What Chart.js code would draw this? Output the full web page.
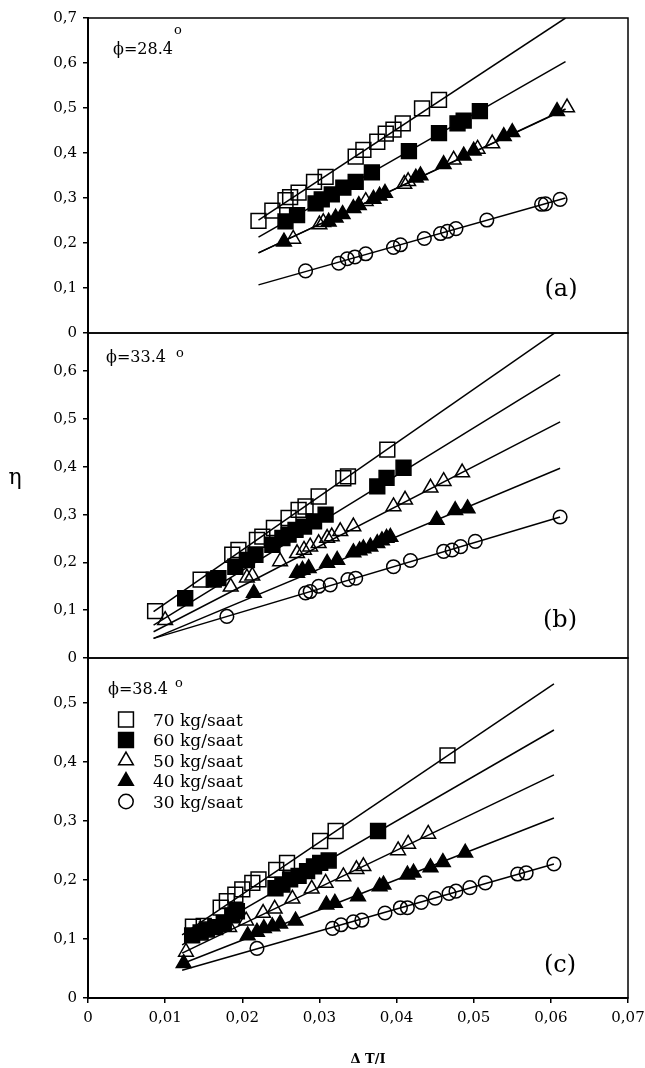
<!DOCTYPE html>
<html>
<head>
<meta charset="utf-8">
<script src="https://cdn.jsdelivr.net/npm/chart.js@4.4.0/dist/chart.umd.min.js"></script>
<style>
  html, body { margin: 0; padding: 0; background: #fff; }
  #wrap { position: relative; width: 645px; height: 1068px; }
  #wrap canvas { position: absolute; left: 0; top: 0; }
</style>
</head>
<body>
<div id="wrap">
  <canvas id="panelA" width="645" height="1068"></canvas>
  <canvas id="panelB" width="645" height="1068"></canvas>
  <canvas id="panelC" width="645" height="1068"></canvas>
</div>
<script>
// ---- data ----
const flowLabels = ['70 kg/saat', '60 kg/saat', '50 kg/saat', '40 kg/saat', '30 kg/saat'];
const xTicks = [0, 0.01, 0.02, 0.03, 0.04, 0.05, 0.06, 0.07];
const yTicksA = [0, 0.1, 0.2, 0.3, 0.4, 0.5, 0.6, 0.7];
const yTicksB = [0, 0.1, 0.2, 0.3, 0.4, 0.5, 0.6];
const yTicksC = [0, 0.1, 0.2, 0.3, 0.4, 0.5];

// (a) phi = 28.4
const a70x = [0.0221, 0.0239, 0.0256, 0.0262, 0.0273, 0.0293, 0.0308, 0.0347, 0.0357, 0.0375, 0.0386, 0.0396, 0.0408, 0.0433, 0.0455];
const a70y = [0.249, 0.272, 0.295, 0.302, 0.312, 0.336, 0.347, 0.392, 0.407, 0.425, 0.443, 0.452, 0.466, 0.499, 0.518];
const a60x = [0.0256, 0.0271, 0.0295, 0.0303, 0.0316, 0.0331, 0.0347, 0.0368, 0.0416, 0.0455, 0.0479, 0.0487, 0.0508];
const a60y = [0.248, 0.262, 0.288, 0.297, 0.308, 0.323, 0.336, 0.357, 0.404, 0.444, 0.466, 0.472, 0.493];
const a50x = [0.0266, 0.0300, 0.0305, 0.0360, 0.0410, 0.0415, 0.0474, 0.0505, 0.0524, 0.0621];
const a50y = [0.209, 0.241, 0.246, 0.293, 0.331, 0.337, 0.385, 0.409, 0.421, 0.501];
const a40x = [0.0254, 0.0312, 0.0321, 0.0330, 0.0344, 0.0351, 0.0370, 0.0378, 0.0385, 0.0425, 0.0431, 0.0461, 0.0487, 0.0500, 0.0539, 0.0550, 0.0608];
const a40y = [0.203, 0.247, 0.256, 0.264, 0.277, 0.284, 0.298, 0.305, 0.311, 0.345, 0.350, 0.375, 0.394, 0.405, 0.437, 0.446, 0.493];
const a30x = [0.0282, 0.0325, 0.0336, 0.0346, 0.0360, 0.0396, 0.0405, 0.0436, 0.0457, 0.0466, 0.0477, 0.0517, 0.0588, 0.0593, 0.0612];
const a30y = [0.138, 0.155, 0.165, 0.169, 0.176, 0.190, 0.196, 0.210, 0.221, 0.226, 0.232, 0.251, 0.286, 0.287, 0.297];
const aFitX = [0.0221, 0.0619];
const aFit = [[0.251, 0.700], [0.213, 0.603], [0.178, 0.498], [0.178, 0.497], [0.107, 0.300]];

// (b) phi = 33.4
const b70x = [0.0087, 0.0146, 0.0187, 0.0195, 0.0219, 0.0226, 0.0241, 0.0260, 0.0273, 0.0282, 0.0299, 0.0331, 0.0337, 0.0388];
const b70y = [0.098, 0.164, 0.216, 0.226, 0.247, 0.254, 0.272, 0.293, 0.310, 0.317, 0.338, 0.376, 0.380, 0.436];
const b60x = [0.0126, 0.0163, 0.0169, 0.0191, 0.0206, 0.0217, 0.0239, 0.0252, 0.0260, 0.0269, 0.0280, 0.0293, 0.0308, 0.0375, 0.0387, 0.0409];
const b60y = [0.125, 0.164, 0.167, 0.191, 0.205, 0.216, 0.237, 0.251, 0.258, 0.268, 0.275, 0.286, 0.300, 0.359, 0.377, 0.398];
const b50x = [0.0100, 0.0185, 0.0206, 0.0213, 0.0249, 0.0271, 0.0280, 0.0288, 0.0299, 0.0310, 0.0316, 0.0327, 0.0344, 0.0396, 0.0411, 0.0444, 0.0461, 0.0485];
const b50y = [0.079, 0.149, 0.168, 0.172, 0.202, 0.219, 0.226, 0.233, 0.240, 0.251, 0.254, 0.265, 0.275, 0.317, 0.331, 0.356, 0.370, 0.388];
const b40x = [0.0215, 0.0271, 0.0278, 0.0286, 0.0310, 0.0323, 0.0344, 0.0352, 0.0357, 0.0366, 0.0375, 0.0381, 0.0387, 0.0392, 0.0452, 0.0476, 0.0492];
const b40y = [0.136, 0.178, 0.184, 0.188, 0.199, 0.205, 0.221, 0.225, 0.229, 0.233, 0.240, 0.246, 0.251, 0.253, 0.289, 0.309, 0.313];
const b30x = [0.0180, 0.0282, 0.0288, 0.0299, 0.0314, 0.0337, 0.0347, 0.0396, 0.0418, 0.0461, 0.0472, 0.0483, 0.0502, 0.0612];
const b30y = [0.087, 0.136, 0.139, 0.150, 0.153, 0.164, 0.167, 0.191, 0.204, 0.223, 0.226, 0.233, 0.244, 0.295];
const bFitX = [0.0085, 0.0612];
const bFit = [[0.097, 0.688], [0.069, 0.593], [0.055, 0.494], [0.041, 0.397], [0.041, 0.295]];

// (c) phi = 38.4
const c70x = [0.0136, 0.0150, 0.0172, 0.0180, 0.0191, 0.0200, 0.0213, 0.0221, 0.0244, 0.0258, 0.0301, 0.0321, 0.0466];
const c70y = [0.121, 0.122, 0.153, 0.164, 0.175, 0.184, 0.195, 0.201, 0.217, 0.229, 0.266, 0.283, 0.411];
const c60x = [0.0135, 0.0146, 0.0154, 0.0165, 0.0176, 0.0187, 0.0193, 0.0243, 0.0252, 0.0262, 0.0273, 0.0284, 0.0293, 0.0301, 0.0312, 0.0376];
const c60y = [0.106, 0.111, 0.116, 0.120, 0.127, 0.140, 0.147, 0.186, 0.192, 0.201, 0.207, 0.215, 0.223, 0.229, 0.233, 0.283];
const c50x = [0.0127, 0.0183, 0.0205, 0.0227, 0.0242, 0.0265, 0.0290, 0.0308, 0.0331, 0.0348, 0.0357, 0.0402, 0.0415, 0.0441];
const c50y = [0.078, 0.120, 0.131, 0.144, 0.151, 0.168, 0.185, 0.195, 0.206, 0.218, 0.223, 0.250, 0.261, 0.278];
const c40x = [0.0124, 0.0207, 0.0219, 0.0228, 0.0239, 0.0249, 0.0269, 0.0309, 0.0320, 0.0350, 0.0378, 0.0383, 0.0414, 0.0422, 0.0444, 0.0460, 0.0489];
const c40y = [0.059, 0.106, 0.112, 0.118, 0.121, 0.126, 0.131, 0.158, 0.161, 0.172, 0.189, 0.192, 0.209, 0.212, 0.221, 0.230, 0.246];
const c30x = [0.0219, 0.0317, 0.0328, 0.0344, 0.0355, 0.0385, 0.0405, 0.0414, 0.0432, 0.0450, 0.0468, 0.0477, 0.0495, 0.0515, 0.0557, 0.0568, 0.0604];
const c30y = [0.084, 0.118, 0.124, 0.129, 0.132, 0.144, 0.153, 0.153, 0.162, 0.169, 0.177, 0.181, 0.187, 0.195, 0.210, 0.212, 0.227];
const cFitX = [0.0122, 0.0604];
const cFit = [[0.107, 0.532], [0.090, 0.454], [0.076, 0.378], [0.058, 0.305], [0.047, 0.227]];

// ---- styling ----
const FONT = '"DejaVu Serif", "Liberation Serif", serif';
Chart.defaults.font.family = FONT;
Chart.defaults.color = '#000';

const markerStyle = [
    { pointStyle: 'rect', radius: 10.5, fill: 'rgba(0,0,0,0)' },
    { pointStyle: 'rect', radius: 10.5, fill: '#000' },
    { pointStyle: 'triangle', radius: 8.5, fill: 'rgba(0,0,0,0)' },
    { pointStyle: 'triangle', radius: 8.5, fill: '#000' },
    { pointStyle: 'circle', radius: 6.8, fill: 'rgba(0,0,0,0)' }
];

const toPoints = (xs, ys) => xs.map((x, i) => ({ x: x, y: ys[i] }));
const fmt = (v, d) => v === 0 ? '0' : v.toFixed(d).replace('.', ',');

function drawTexts(ctx, texts) {
    texts.forEach(t => {
        ctx.font = `${t.weight || 'normal'} ${t.size}px ${FONT}`;
        ctx.textAlign = t.align || 'left';
        ctx.fillText(t.text, t.x, t.y);
        if (t.sup) {
            const w = ctx.measureText(t.text).width;
            ctx.font = `${t.supSize}px ${FONT}`;
            ctx.textAlign = 'left';
            ctx.fillText(t.sup, t.x + w + t.supGap, t.y - t.supRise);
        }
    });
}

function drawLegend(ctx) {
    ctx.font = `17px ${FONT}`;
    ctx.textAlign = 'left';
    flowLabels.forEach((label, i) => {
        const y = 719.5 + i * 20.5;
        const m = markerStyle[i];
        ctx.fillStyle = m.fill;
        ctx.strokeStyle = '#000';
        ctx.lineWidth = 1.5;
        Chart.helpers.drawPoint(ctx, {
            pointStyle: m.pointStyle,
            radius: m.pointStyle === 'circle' ? 7.2 : m.radius,
            rotation: 0,
            borderWidth: 1.5
        }, 126, y);
        ctx.fillStyle = '#000';
        ctx.fillText(label, 153, y + 6);
    });
}

function decor(texts, withLegend) {
    return {
        id: 'decor',
        afterDraw(chart) {
            const { ctx, chartArea: a } = chart;
            ctx.save();
            ctx.strokeStyle = '#000';
            ctx.lineWidth = 1.5;
            ctx.strokeRect(a.left, a.top, a.right - a.left, a.bottom - a.top);
            ctx.fillStyle = '#000';
            ctx.textBaseline = 'alphabetic';
            drawTexts(ctx, texts);
            if (withLegend) drawLegend(ctx);
            ctx.restore();
        }
    };
}

function makePanel(id, series, fitX, fits, yMax, yTicks, showX, padding, texts, withLegend) {
    const datasets = [];
    series.forEach((s, i) => {
        const m = markerStyle[i];
        datasets.push({
            label: flowLabels[i],
            data: toPoints(s[0], s[1]),
            showLine: false,
            pointStyle: m.pointStyle,
            pointRadius: m.radius,
            pointBackgroundColor: m.fill,
            pointBorderColor: '#000',
            pointBorderWidth: 1.5,
            order: 1
        });
    });
    fits.forEach((f, i) => {
        datasets.push({
            label: flowLabels[i] + ' fit',
            data: toPoints(fitX, f),
            showLine: true,
            pointRadius: 0,
            borderColor: '#000',
            borderWidth: 1.5,
            order: 2
        });
    });

    return new Chart(document.getElementById(id), {
        type: 'scatter',
        data: { datasets: datasets },
        options: {
            responsive: false,
            animation: false,
            devicePixelRatio: 1,
            events: [],
            layout: { padding: padding },
            plugins: { legend: { display: false }, tooltip: { enabled: false } },
            scales: {
                x: {
                    type: 'linear',
                    min: 0,
                    max: 0.07,
                    display: showX,
                    afterBuildTicks: s => { s.ticks = xTicks.map(v => ({ value: v })); },
                    afterFit: s => {
                        s.height = showX ? 60 : 0;
                        s.paddingLeft = 0;
                        s.paddingRight = 0;
                    },
                    border: { display: true, color: '#000', width: 2 },
                    grid: { drawOnChartArea: false, color: '#000', lineWidth: 1.5, tickLength: 5 },
                    ticks: {
                        font: { size: 15 },
                        padding: 6,
                        maxRotation: 0,
                        autoSkip: false,
                        callback: v => fmt(v, 2)
                    }
                },
                y: {
                    type: 'linear',
                    min: 0,
                    max: yMax,
                    afterBuildTicks: s => { s.ticks = yTicks.map(v => ({ value: v })); },
                    afterFit: s => { s.width = 88; },
                    border: { display: true, color: '#000', width: 2 },
                    grid: { drawOnChartArea: false, color: '#000', lineWidth: 1.5, tickLength: 5 },
                    ticks: {
                        font: { size: 15 },
                        padding: 6,
                        callback: v => fmt(v, 1)
                    }
                }
            }
        },
        plugins: [decor(texts, withLegend)]
    });
}

makePanel('panelA',
    [[a70x, a70y], [a60x, a60y], [a50x, a50y], [a40x, a40y], [a30x, a30y]],
    aFitX, aFit, 0.7, yTicksA, false,
    { left: 0, top: 18, right: 17, bottom: 735 },
    [
        { text: 'ϕ=28.4', x: 113, y: 54, size: 16, sup: 'o', supSize: 13, supGap: 1, supRise: 20 },
        { text: '(a)', x: 561, y: 296, size: 24, align: 'center' }
    ], false);

makePanel('panelB',
    [[b70x, b70y], [b60x, b60y], [b50x, b50y], [b40x, b40y], [b30x, b30y]],
    bFitX, bFit, 0.68, yTicksB, false,
    { left: 0, top: 333, right: 17, bottom: 410 },
    [
        { text: 'ϕ=33.4', x: 106, y: 362, size: 16, sup: 'o', supSize: 13, supGap: 10, supRise: 5 },
        { text: '(b)', x: 560, y: 627, size: 24, align: 'center' },
        { text: 'η', x: 15, y: 484, size: 22, align: 'center' }
    ], false);

makePanel('panelC',
    [[c70x, c70y], [c60x, c60y], [c50x, c50y], [c40x, c40y], [c30x, c30y]],
    cFitX, cFit, 0.576, yTicksC, true,
    { left: 0, top: 658, right: 17, bottom: 10 },
    [
        { text: 'ϕ=38.4', x: 108, y: 694, size: 16, sup: 'o', supSize: 13, supGap: 7, supRise: 7 },
        { text: '(c)', x: 560, y: 972, size: 24, align: 'center' },
        { text: 'Δ T/I', x: 368, y: 1063, size: 13, weight: 'bold', align: 'center' }
    ], true);
</script>
</body>
</html>
